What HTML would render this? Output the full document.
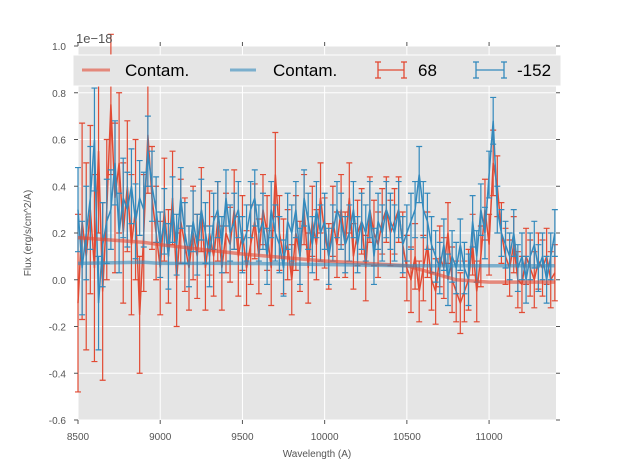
<!DOCTYPE html>
<html><head><meta charset="utf-8"><style>
body{margin:0;background:#fff;}
svg text{font-family:"Liberation Sans",sans-serif;}
</style></head><body>
<svg id="c" width="617" height="467" xmlns="http://www.w3.org/2000/svg">
<rect x="78" y="46" width="478" height="374" fill="#E5E5E5"/>
<g id="grid"></g><g id="series"></g><g id="axes"></g>
<text x="76" y="43" font-size="13" fill="#555">1e−18</text>
<text x="317" y="457" font-size="10" fill="#555" text-anchor="middle">Wavelength (A)</text>
<text x="31" y="233" font-size="10" fill="#555" text-anchor="middle" transform="rotate(-90 31 233)">Flux (erg/s/cm^2/A)</text>
<g>
<rect x="73" y="55" width="488" height="31" fill="#E5E5E5" stroke="#fff" stroke-width="1"/>
<g><line x1="82" y1="70" x2="110" y2="70" stroke="#E24A33" stroke-opacity="0.6" stroke-width="3"/><text x="125" y="76" font-size="17">Contam.</text></g>
<g><line x1="230" y1="70" x2="256" y2="70" stroke="#348ABD" stroke-opacity="0.6" stroke-width="3"/><text x="273" y="76" font-size="17">Contam.</text></g>
<g stroke="#E24A33" stroke-width="1.3"><line x1="378" y1="70" x2="404" y2="70"/><line x1="378" y1="62" x2="378" y2="78"/><line x1="404" y1="62" x2="404" y2="78"/><line x1="375" y1="62" x2="381" y2="62"/><line x1="375" y1="78" x2="381" y2="78"/><line x1="401" y1="62" x2="407" y2="62"/><line x1="401" y1="78" x2="407" y2="78"/><text x="418" y="76" font-size="17" stroke="none" fill="#000">68</text></g>
<g stroke="#348ABD" stroke-width="1.3"><line x1="476" y1="70" x2="504" y2="70"/><line x1="476" y1="62" x2="476" y2="78"/><line x1="504" y1="62" x2="504" y2="78"/><line x1="473" y1="62" x2="479" y2="62"/><line x1="473" y1="78" x2="479" y2="78"/><line x1="501" y1="62" x2="507" y2="62"/><line x1="501" y1="78" x2="507" y2="78"/><text x="517" y="76" font-size="17" stroke="none" fill="#000">-152</text></g>
</g>
</svg>
<script>
const xTicks=[8500,9000,9500,10000,10500,11000];
const yTicks=[-0.6,-0.4,-0.2,0.0,0.2,0.4,0.6,0.8,1.0];
const waveStart=8500, waveStep=25;
const fluxRed=[-0.1,0.25,0.1,0.3,0.05,0.55,-0.05,0.3,0.75,0.35,0.5,0.2,0.4,0.15,0.3,-0.15,
0.2,0.62,0.35,0.2,0.05,0.3,0.1,0.35,0.0,0.25,0.15,0.05,0.2,0.1,0.3,0.05,
0.2,0.1,0.25,0.05,0.2,0.15,0.3,0.1,0.2,0.05,0.15,0.25,0.1,0.3,0.2,0.05,
0.45,0.2,0.1,0.15,0.0,0.2,0.1,0.3,0.05,0.25,0.15,0.35,0.2,0.1,0.25,0.15,
0.3,0.15,0.35,0.1,0.2,0.25,0.05,0.3,0.2,0.15,0.25,0.3,0.2,0.25,0.3,0.15,
0.05,0.0,0.1,-0.05,0.05,0.15,0.0,-0.05,0.1,0.05,0.2,0.0,-0.05,-0.1,-0.05,0.0,
0.15,-0.05,0.1,0.3,0.15,0.5,0.4,0.2,0.1,0.05,0.15,0.0,-0.02,0.1,0.05,0.0,
0.08,0.05,0.1,0.0,0.03];
const errRed=[0.38,0.42,0.4,0.36,0.4,0.35,0.38,0.3,0.3,0.32,0.3,0.3,0.28,0.3,0.3,0.25,
0.25,0.25,0.22,0.2,0.2,0.22,0.2,0.2,0.2,0.18,0.2,0.18,0.2,0.18,0.18,0.18,
0.18,0.17,0.17,0.18,0.17,0.16,0.17,0.17,0.16,0.16,0.17,0.16,0.16,0.15,0.16,0.16,
0.18,0.16,0.16,0.15,0.15,0.16,0.15,0.15,0.15,0.15,0.15,0.15,0.15,0.14,0.15,0.14,
0.15,0.14,0.15,0.14,0.14,0.14,0.14,0.14,0.14,0.14,0.14,0.14,0.14,0.14,0.14,0.14,
0.14,0.14,0.14,0.13,0.14,0.14,0.13,0.14,0.13,0.13,0.13,0.14,0.13,0.13,0.13,0.13,
0.13,0.13,0.13,0.13,0.13,0.14,0.13,0.13,0.12,0.12,0.12,0.12,0.12,0.12,0.12,0.12,
0.12,0.12,0.12,0.12,0.12];
const fluxBlue=[0.3,0.05,0.2,0.35,0.6,-0.1,0.15,0.25,0.3,0.5,0.2,0.35,0.3,0.4,0.25,0.35,
0.3,0.55,0.4,0.3,0.15,0.25,0.1,0.3,0.15,0.35,0.2,0.1,0.25,0.15,0.3,0.2,
0.1,0.25,0.3,0.15,0.35,0.2,0.25,0.3,0.15,0.2,0.3,0.35,0.2,0.25,0.1,0.3,
0.2,0.15,0.05,0.25,0.2,0.3,0.1,0.35,0.25,0.15,0.3,0.2,0.25,0.1,0.2,0.3,
0.25,0.15,0.2,0.3,0.15,0.25,0.2,0.3,0.1,0.25,0.2,0.3,0.25,0.2,0.3,0.15,
0.2,0.25,0.3,0.45,0.3,0.25,0.15,0.1,0.05,0.15,0.0,0.1,0.05,0.15,0.05,0.0,
0.25,0.1,0.3,0.2,0.45,0.68,0.3,0.2,0.15,0.1,0.2,0.05,0.1,0.0,0.1,0.15,
0.05,0.1,0.0,0.1,0.2];
const errBlue=[0.18,0.2,0.2,0.22,0.22,0.2,0.18,0.18,0.17,0.18,0.17,0.17,0.16,0.16,0.16,0.16,
0.16,0.15,0.15,0.14,0.14,0.14,0.14,0.14,0.13,0.13,0.13,0.13,0.13,0.13,0.13,0.13,
0.13,0.12,0.12,0.12,0.12,0.12,0.12,0.12,0.12,0.12,0.12,0.12,0.12,0.12,0.12,0.12,
0.12,0.12,0.12,0.12,0.12,0.12,0.12,0.12,0.12,0.12,0.12,0.12,0.12,0.12,0.12,0.12,
0.12,0.12,0.12,0.12,0.12,0.12,0.12,0.12,0.12,0.12,0.12,0.12,0.12,0.12,0.12,0.12,
0.12,0.12,0.12,0.12,0.12,0.12,0.12,0.11,0.11,0.11,0.11,0.11,0.11,0.11,0.11,0.11,
0.11,0.11,0.11,0.11,0.1,0.1,0.1,0.1,0.1,0.1,0.1,0.1,0.1,0.1,0.1,0.1,
0.1,0.1,0.1,0.1,0.1];
const contamWave=[8500,8900,9000,9500,10000,10500,10800,11000,11400];
const contamRed=[0.18,0.16,0.15,0.11,0.08,0.06,0.0,-0.01,-0.01];
const contamBlue=[0.07,0.075,0.07,0.07,0.065,0.06,0.06,0.06,0.06];

const NS="http://www.w3.org/2000/svg";
const X0=78,X1=556,Y0=46,Y1=420,XMIN=8500,XMAX=11407,YMIN=-0.6,YMAX=1.0;
const sx=v=>X0+(v-XMIN)/(XMAX-XMIN)*(X1-X0);
const sy=v=>Y1-(v-YMIN)/(YMAX-YMIN)*(Y1-Y0);
function mk(p,tag,a){const e=document.createElementNS(NS,tag);for(const k in a)e.setAttribute(k,a[k]);p.appendChild(e);return e;}
const grid=document.getElementById('grid'),axes=document.getElementById('axes'),ser=document.getElementById('series');
xTicks.forEach(t=>{
 const l=mk(grid,'line',{x1:sx(t),x2:sx(t),y1:Y0,y2:Y1,stroke:'#fff','stroke-width':1});
 
 
 const tk=mk(axes,'line',{x1:sx(t),x2:sx(t),y1:Y1,y2:Y1+4,stroke:'#555'});
 
 
 const tk2=mk(axes,'line',{x1:sx(t),x2:sx(t),y1:Y0-4,y2:Y0,stroke:'#555'});
 
 
 const tx=mk(axes,'text',{x:sx(t),y:Y1+20,'font-size':10,fill:'#555','text-anchor':'middle'});
 tx.textContent=t;
 
 
});
yTicks.forEach(t=>{
 const l=mk(grid,'line',{x1:X0,x2:X1,y1:sy(t),y2:sy(t),stroke:'#fff','stroke-width':1});
 
 
 const tk=mk(axes,'line',{x1:X0-4,x2:X0,y1:sy(t),y2:sy(t),stroke:'#555'});
 
 
 const tk2=mk(axes,'line',{x1:X1,x2:X1+4,y1:sy(t),y2:sy(t),stroke:'#555'});
 
 
 const tx=mk(axes,'text',{x:X0-12,y:sy(t)+4,'font-size':10,fill:'#555','text-anchor':'end'});
 tx.textContent=t.toFixed(1);
 
 
});
function errSeries(flux,err,color,name){
 const g=mk(ser,'g',{stroke:color,'stroke-width':1.2,fill:'none'});
 
 
 let d='';
 flux.forEach((v,i)=>{
  const x=sx(waveStart+i*waveStep);
  const a=sy(v+err[i]),b=sy(v-err[i]);
  const e=mk(g,'path',{d:`M${x},${a}V${b}M${x-3},${a}H${x+3}M${x-3},${b}H${x+3}`});
  
  
  d+=(i?'L':'M')+x+','+sy(v);
 });
 const p=mk(g,'path',{d:d,'stroke-width':1.5});
 
 
}
function contam(vals,color,name){
 const d=vals.map((v,i)=>(i?'L':'M')+sx(contamWave[i])+','+sy(v)).join('');
 const p=mk(ser,'path',{d:d,stroke:color,'stroke-opacity':0.6,'stroke-width':3.5,fill:'none'});
 
 
}
errSeries(fluxRed,errRed,'#E24A33','series-68');
errSeries(fluxBlue,errBlue,'#348ABD','series-152');
contam(contamRed,'#E24A33','contam-red-line');
contam(contamBlue,'#348ABD','contam-blue-line');
</script>
</body></html>
